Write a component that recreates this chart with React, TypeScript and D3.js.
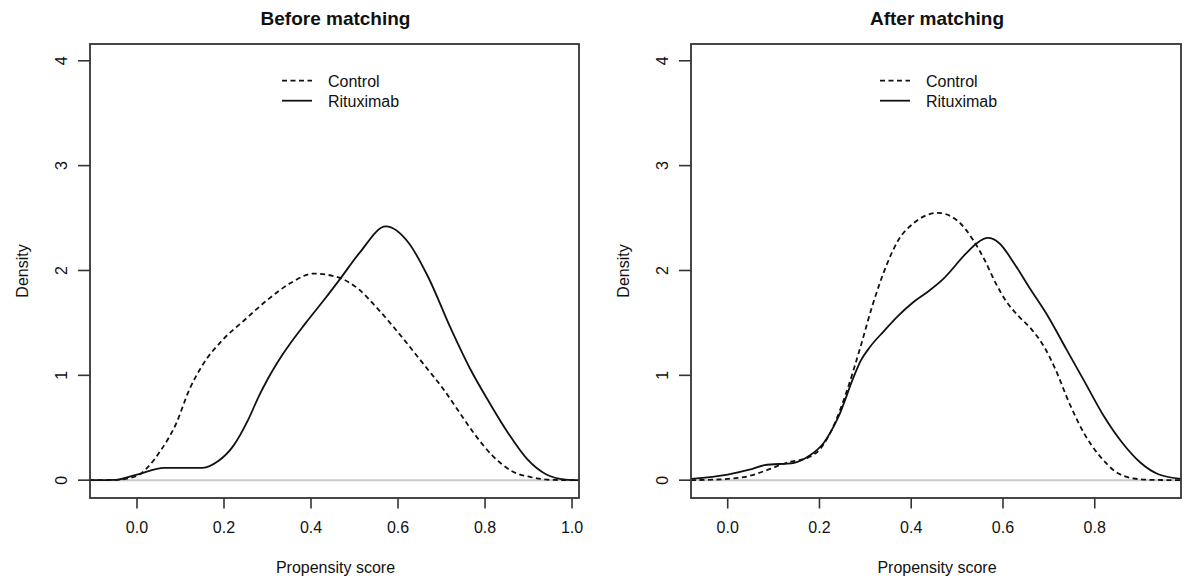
import * as d3 from "d3";
import React from "react";

// density estimates, [propensity score, density]
const controlBefore: [number, number][] = [
  [-0.11, 0], [-0.05, 0.003], [0.0, 0.04], [0.024, 0.12], [0.054, 0.28], [0.09, 0.54],
  [0.12, 0.86], [0.151, 1.1], [0.195, 1.33], [0.248, 1.53], [0.3, 1.72], [0.353, 1.88],
  [0.406, 1.97], [0.458, 1.94], [0.51, 1.82], [0.55, 1.65], [0.6, 1.41], [0.66, 1.1],
  [0.704, 0.87], [0.739, 0.66], [0.774, 0.45], [0.818, 0.23], [0.862, 0.086],
  [0.915, 0.022], [0.96, 0.002], [1.016, 0],
];
const rituximabBefore: [number, number][] = [
  [-0.11, 0], [-0.05, 0.003], [0.0, 0.054], [0.063, 0.118], [0.151, 0.118], [0.186, 0.18],
  [0.221, 0.325], [0.256, 0.58], [0.28, 0.8], [0.3, 0.96], [0.335, 1.2], [0.388, 1.5],
  [0.432, 1.73], [0.467, 1.92], [0.511, 2.165], [0.572, 2.42], [0.625, 2.26], [0.669, 1.94],
  [0.722, 1.44], [0.766, 1.06], [0.81, 0.74], [0.853, 0.45], [0.897, 0.2],
  [0.941, 0.054], [0.985, 0.006], [1.016, 0],
];
const controlAfter: [number, number][] = [
  [-0.08, 0], [-0.034, 0.005], [0.0, 0.012], [0.047, 0.04], [0.088, 0.1], [0.128, 0.166],
  [0.177, 0.22], [0.2, 0.29], [0.234, 0.55], [0.258, 0.83], [0.29, 1.28], [0.315, 1.66],
  [0.348, 2.07], [0.372, 2.29], [0.405, 2.45], [0.458, 2.55], [0.502, 2.47], [0.535, 2.29],
  [0.56, 2.1], [0.584, 1.88], [0.608, 1.7], [0.635, 1.56], [0.66, 1.45], [0.69, 1.27],
  [0.714, 1.06], [0.746, 0.72], [0.779, 0.43], [0.811, 0.23], [0.844, 0.086], [0.885, 0.016],
  [0.925, 0.003], [0.988, 0],
];
const rituximabAfter: [number, number][] = [
  [-0.08, 0.013], [0.0, 0.054], [0.047, 0.1], [0.08, 0.143], [0.145, 0.166], [0.177, 0.23],
  [0.21, 0.36], [0.242, 0.61], [0.275, 0.99], [0.29, 1.14], [0.31, 1.27], [0.34, 1.42],
  [0.372, 1.57], [0.405, 1.7], [0.437, 1.8], [0.47, 1.92], [0.519, 2.16], [0.543, 2.26],
  [0.567, 2.31], [0.592, 2.26], [0.624, 2.07], [0.657, 1.84], [0.697, 1.57], [0.738, 1.25],
  [0.779, 0.93], [0.82, 0.61], [0.86, 0.357], [0.9, 0.166], [0.94, 0.054], [0.988, 0.013],
];

const yTicks = [0, 1, 2, 3, 4];
const xTicksBefore = [0, 0.2, 0.4, 0.6, 0.8, 1.0];
const xTicksAfter = [0, 0.2, 0.4, 0.6, 0.8];
const seriesNames = ["Control", "Rituximab"];

const W = 1184;
const H = 582;
const top = 44;
const bottom = 498;
const font = "'Liberation Sans', Arial, Helvetica, sans-serif";
const dash = "5,3.5";

const panels = [
  {
    title: "Before matching",
    x0: 90,
    x1: 579,
    domain: [-0.108, 1.016],
    ticks: xTicksBefore,
    control: controlBefore,
    rituximab: rituximabBefore,
    legendX: 282,
  },
  {
    title: "After matching",
    x0: 691,
    x1: 1181,
    domain: [-0.08, 0.988],
    ticks: xTicksAfter,
    control: controlAfter,
    rituximab: rituximabAfter,
    legendX: 880,
  },
];

function Panel({ p, i }: { p: any; i: number }) {
  const x = d3.scaleLinear().domain(p.domain).range([p.x0, p.x1]);
  const y = d3.scaleLinear().domain([-0.17, 4.16]).range([bottom, top]);
  const line = d3
    .line<[number, number]>()
    .x((d) => x(d[0]))
    .y((d) => y(d[1]))
    .curve(d3.curveMonotoneX);
  const cx = (p.x0 + p.x1) / 2;
  const clipId = "clip" + i;

  return (
    <g fontFamily={font} fill="#111">
      <defs>
        <clipPath id={clipId}>
          <rect x={p.x0} y={top} width={p.x1 - p.x0} height={bottom - top} />
        </clipPath>
      </defs>
      <text x={cx + 1} y={25} textAnchor="middle" fontWeight="bold" fontSize={19}>
        {p.title}
      </text>

      {/* zero line */}
      <line x1={p.x0} x2={p.x1} y1={y(0)} y2={y(0)} stroke="#c8c8c8" strokeWidth={2} />

      <g clipPath={`url(#${clipId})`} fill="none" stroke="#111" strokeWidth={1.8}>
        <path d={line(p.control) || ""} strokeDasharray={dash} />
        <path d={line(p.rituximab) || ""} />
      </g>

      <rect x={p.x0} y={top} width={p.x1 - p.x0} height={bottom - top} fill="none" stroke="#333" strokeWidth={1.8} />

      {/* x axis */}
      {p.ticks.map((t: number) => (
        <g key={t}>
          <line x1={x(t)} x2={x(t)} y1={bottom} y2={bottom + 10.5} stroke="#333" strokeWidth={1.6} />
          <text x={x(t)} y={533} textAnchor="middle" fontSize={16}>
            {d3.format(".1f")(t)}
          </text>
        </g>
      ))}
      <text x={cx + 1} y={573} textAnchor="middle" fontSize={16}>
        Propensity score
      </text>

      {/* y axis */}
      {yTicks.map((t) => (
        <g key={t}>
          <line x1={p.x0 - 12} x2={p.x0} y1={y(t)} y2={y(t)} stroke="#333" strokeWidth={1.6} />
          <text transform={`translate(${p.x0 - 23},${y(t)}) rotate(-90)`} textAnchor="middle" fontSize={16}>
            {t}
          </text>
        </g>
      ))}
      <text transform={`translate(${p.x0 - 62},${(top + bottom) / 2}) rotate(-90)`} textAnchor="middle" fontSize={16}>
        Density
      </text>

      {/* legend */}
      {seriesNames.map((s, k) => (
        <g key={s}>
          <line
            x1={p.legendX}
            x2={p.legendX + 30}
            y1={80.7 + k * 20}
            y2={80.7 + k * 20}
            stroke="#111"
            strokeWidth={1.8}
            strokeDasharray={k === 0 ? dash : undefined}
          />
          <text x={p.legendX + 46} y={86.5 + k * 20} fontSize={16}>
            {s}
          </text>
        </g>
      ))}
    </g>
  );
}

export default function App() {
  return (
    <svg
      width={W}
      height={H}
      style={{ position: "absolute", left: 0, top: 0, background: "#fff" }}
    >
      <rect width={W} height={H} fill="#fff" />
      {panels.map((p, i) => (
        <Panel key={p.title} p={p} i={i} />
      ))}
    </svg>
  );
}
